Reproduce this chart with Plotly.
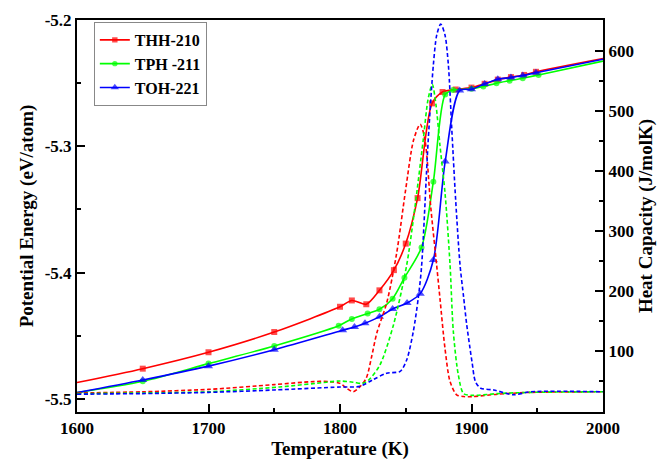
import plotly.graph_objects as go

# ---- Potential energy (left axis) ----
T_THH = [1600, 1650, 1700, 1750, 1800, 1809, 1820, 1830, 1841, 1850, 1859, 1870, 1878, 1888, 1900, 1910, 1920, 1930, 1940, 1949, 2000]
PE_THH = [-5.487, -5.476, -5.463, -5.447, -5.427, -5.422, -5.425, -5.414, -5.398, -5.377, -5.341, -5.266, -5.257, -5.255,
          -5.2535, -5.2505, -5.2472, -5.2452, -5.2435, -5.2410, -5.2305]

T_TPH = [1600, 1650, 1700, 1750, 1799, 1809, 1821, 1830, 1840, 1849, 1862, 1871, 1880, 1886, 1900, 1909, 1919, 1929, 1939, 1951, 2000]
PE_TPH = [-5.495, -5.486, -5.472, -5.458, -5.442, -5.4366, -5.4324, -5.429, -5.4206, -5.404, -5.380, -5.328, -5.259, -5.2555,
          -5.2545, -5.2527, -5.2500, -5.2480, -5.2461, -5.2435, -5.2325]

T_TOH = [1600, 1650, 1700, 1750, 1802, 1811, 1819, 1830, 1840, 1851, 1861, 1871, 1880, 1891, 1900, 1910, 1920, 1930, 1939, 1949, 2000]
PE_TOH = [-5.495, -5.485, -5.474, -5.461, -5.4456, -5.443, -5.440, -5.435, -5.4287, -5.424, -5.4166, -5.390, -5.312, -5.2559,
          -5.2548, -5.2506, -5.2469, -5.2456, -5.2440, -5.2417, -5.2310]

# ---- Heat capacity (right axis) ----
TC_THH = [1600, 1650, 1700, 1750, 1780, 1792, 1800, 1805, 1810, 1815, 1820, 1824, 1828, 1835.5, 1843, 1850, 1856, 1861,
          1864.6, 1869, 1873.5, 1876, 1879.8, 1883.7, 1888.7, 1894, 1901, 1920, 1945, 2000]
CP_THH = [30, 32, 36, 44, 49, 49, 46, 38, 32, 40, 55, 90, 130, 180, 262, 370, 452, 478,
          452, 340, 243, 188, 105, 49, 27, 24, 24, 28, 31, 32]

TC_TPH = [1600, 1650, 1700, 1754, 1790, 1800, 1810, 1817, 1822, 1830.4, 1840.6, 1850.7, 1857, 1863.3, 1867, 1870.2, 1873,
          1876, 1880, 1883.7, 1886.2, 1890, 1894, 1901, 1920, 1945, 2000]
CP_TPH = [29, 30, 32, 40, 48, 50, 48, 46, 52, 77, 143, 243, 340, 452, 520, 544, 510,
          443, 360, 243, 132, 60, 29, 26, 29, 31, 32]

TC_TOH = [1600, 1650, 1700, 1750, 1800, 1815, 1825, 1835.5, 1845.7, 1850.7, 1855.7, 1859.5, 1862, 1867.1, 1871, 1873.6,
          1876.6, 1879.8, 1882.4, 1885, 1888, 1891.3, 1894, 1896.3, 1898.5, 1900.5, 1903, 1907, 1917, 1932, 1945, 2000]
CP_TOH = [28, 29, 31, 35, 40, 41, 52, 63, 66, 85, 132, 188, 240, 452, 577, 627,
          645, 627, 577, 470, 350, 243, 190, 145, 110, 80, 49, 38, 35, 27, 32, 32]

# ---- tick labels ----
PE_TICKS = [-5.5, -5.4, -5.3, -5.2]
PE_TICK_LABELS = ["-5.5", "-5.4", "-5.3", "-5.2"]
CP_TICKS = [100, 200, 300, 400, 500, 600]

NAMES = ["THH-210", "TPH -211", "TOH-221"]
COLORS = ["#FF0000", "#00FF00", "#0000FF"]
SYMBOLS = ["square", "circle", "triangle-up"]
MSIZE = [6, 6, 8]

FONT = "Liberation Serif"

fig = go.Figure()

cp_sets = [(TC_THH, CP_THH), (TC_TPH, CP_TPH), (TC_TOH, CP_TOH)]
for (tx, cy), c, n in zip(cp_sets, COLORS, NAMES):
    fig.add_trace(go.Scatter(
        x=tx, y=cy, yaxis="y2", mode="lines", name=n + " Cp", showlegend=False,
        line=dict(color=c, width=1.6, dash="4px,2.5px", shape="spline", smoothing=0.8),
        hoverinfo="skip"))

pe_sets = [(T_THH, PE_THH), (T_TPH, PE_TPH), (T_TOH, PE_TOH)]
for (tx, py), c, n, s, ms in zip(pe_sets, COLORS, NAMES, SYMBOLS, MSIZE):
    sizes = [ms if 1600 < t < 2000 else 0 for t in tx]
    fig.add_trace(go.Scatter(
        x=tx, y=py, mode="lines+markers", name=n,
        line=dict(color=c, width=1.6, shape="spline", smoothing=0.8),
        marker=dict(symbol=s, size=sizes, color=c, line=dict(width=0))))

tickfont = dict(family=FONT, size=17, color="black", weight="bold")
titlefont = dict(family=FONT, size=19, color="black", weight="bold")

# page body has an 8px default margin, so the figure is 8px smaller
fig.update_layout(
    width=657, height=454,
    margin=dict(l=69, r=62, t=12, b=50, autoexpand=False),
    plot_bgcolor="white", paper_bgcolor="white",
    xaxis=dict(
        range=[1600, 2000], tick0=1600, dtick=100, automargin=False,
        ticks="inside", ticklen=8, tickwidth=1.5, tickcolor="black",
        minor=dict(dtick=50, ticks="inside", ticklen=4, tickwidth=1.5, tickcolor="black"),
        showline=True, linecolor="black", linewidth=2, mirror=True,
        showgrid=False, zeroline=False, tickfont=tickfont,
        title=dict(text="Temperature (K)", font=titlefont, standoff=2)),
    yaxis=dict(
        range=[-5.5103, -5.2], tickvals=PE_TICKS, ticktext=PE_TICK_LABELS, automargin=False,
        ticks="inside", ticklen=8, tickwidth=1.5, tickcolor="black",
        minor=dict(dtick=0.05, tick0=-5.2, ticks="inside", ticklen=4, tickwidth=1.5, tickcolor="black"),
        showline=True, linecolor="black", linewidth=2,
        showgrid=False, zeroline=False, tickfont=tickfont,
        title=dict(text="Potential Energy (eV/atom)", font=titlefont, standoff=6)),
    yaxis2=dict(
        overlaying="y", side="right", range=[-1.7, 651.7], automargin=False,
        tickvals=CP_TICKS,
        ticks="inside", ticklen=8, tickwidth=1.5, tickcolor="black",
        minor=dict(tickvals=[50, 150, 250, 350, 450, 550], ticks="inside", ticklen=4, tickwidth=1.5, tickcolor="black"),
        showline=True, linecolor="black", linewidth=2,
        showgrid=False, zeroline=False, tickfont=tickfont,
        title=dict(text="Heat Capacity (J/molK)", font=titlefont, standoff=6)),
    legend=dict(
        x=0.032, y=0.995, xanchor="left", yanchor="top",
        bgcolor="white", bordercolor="#888888", borderwidth=1,
        font=dict(family=FONT, size=16, color="black", weight="bold"),
        tracegroupgap=0, itemwidth=30),
    showlegend=True,
)

fig.write_html("out.html")
